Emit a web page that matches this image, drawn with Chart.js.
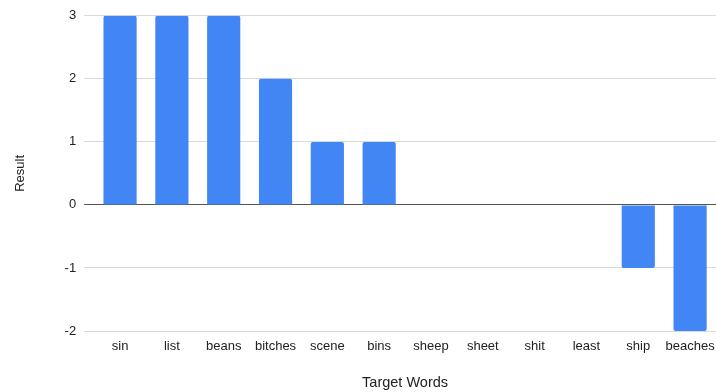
<!DOCTYPE html>
<html>
<head>
<meta charset="utf-8">
<script src="https://cdn.jsdelivr.net/npm/chart.js@4"></script>
<style>
  html, body { margin: 0; padding: 0; background: #fff; }
  #wrap { width: 716px; height: 392px; }
</style>
</head>
<body>
<div id="wrap"><canvas id="barChart"></canvas></div>
<script>
// data
const words = ['sin', 'list', 'beans', 'bitches', 'scene', 'bins', 'sheep', 'sheet', 'shit', 'least', 'ship', 'beaches'];
const results = [3, 3, 3, 2, 1, 1, 0, 0, 0, 0, -1, -2];
const yMin = -2;
const yMax = 3;

document.addEventListener('DOMContentLoaded', function() {
    const ctx = document.getElementById('barChart');
    const font = { family: 'Liberation Sans, Arial, sans-serif', size: 13 };

    new Chart(ctx, {
        type: 'bar',
        data: {
            labels: words,
            datasets: [{
                label: 'Result',
                data: results,
                backgroundColor: '#4285F4',
                borderRadius: 2,
                borderSkipped: 'start',
                barPercentage: 0.64,
                categoryPercentage: 1
            }]
        },
        options: {
            responsive: true,
            maintainAspectRatio: false,
            animation: false,
            layout: { padding: { top: 11, right: 0, bottom: 0, left: 13 } },
            plugins: { legend: { display: false }, tooltip: { enabled: false } },
            scales: {
                x: {
                    grid: { display: false, drawTicks: false },
                    border: { display: false },
                    ticks: { color: '#222', font: font, padding: 8, maxRotation: 0, autoSkip: false },
                    title: { display: true, text: 'Target Words', color: '#222', font: { family: font.family, size: 14.5 }, padding: { top: 12, bottom: 0 } },
                    // let the last label run to the edge, like the original
                    afterFit: function(axis) { axis.paddingRight = 0; }
                },
                y: {
                    min: yMin,
                    max: yMax,
                    border: { display: false },
                    grid: {
                        color: function(c) { return c.tick && c.tick.value === 0 ? '#555' : '#d9d9d9'; },
                        lineWidth: 1,
                        drawTicks: true,
                        tickLength: 10
                    },
                    ticks: { stepSize: 1, color: '#222', font: font, padding: 8 },
                    title: { display: true, text: 'Result', color: '#222', font: font, padding: { top: 0, bottom: 28 } }
                }
            }
        }
    });
});
</script>
</body>
</html>
